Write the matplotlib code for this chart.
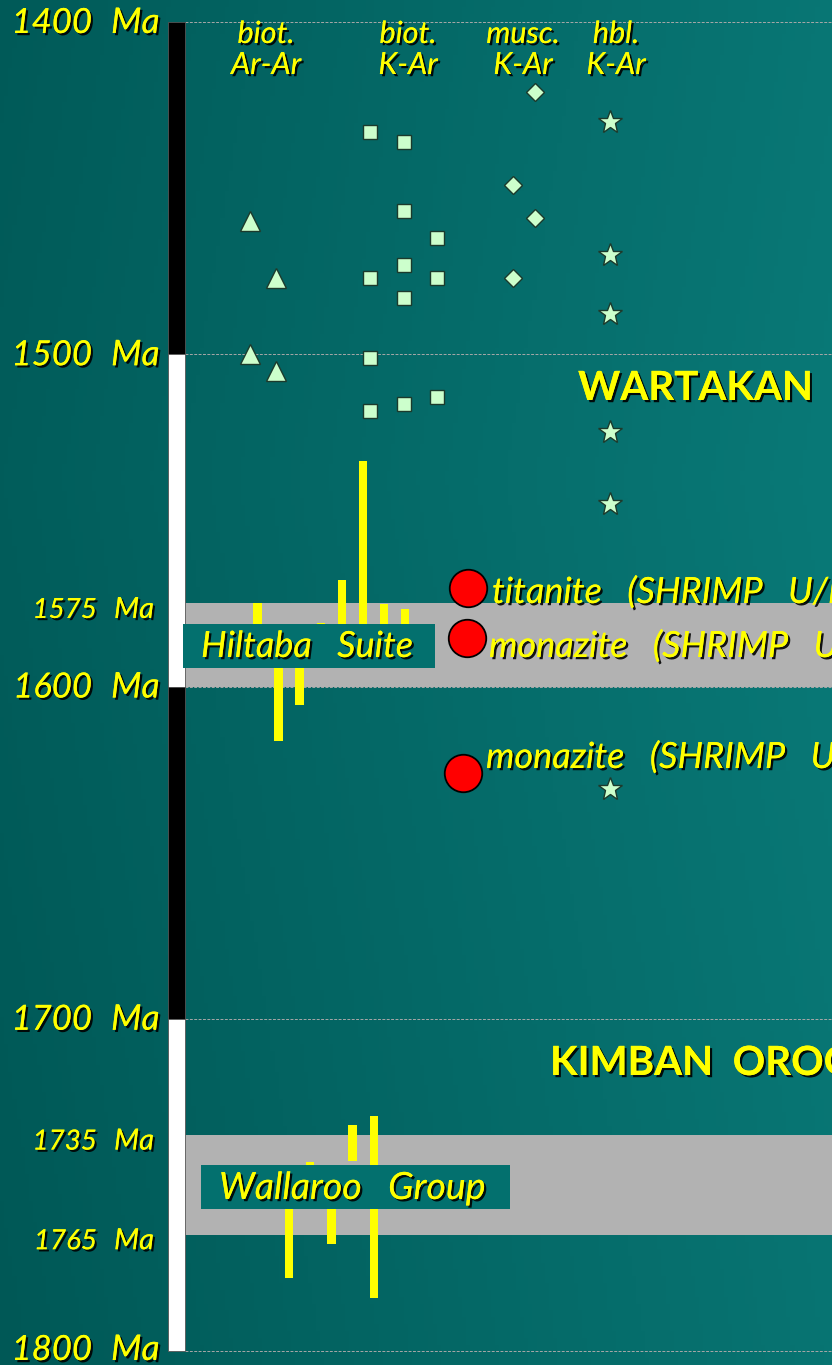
import numpy as np
import matplotlib
matplotlib.use('Agg')
import matplotlib.pyplot as plt
import matplotlib.patheffects as pe
from matplotlib.patches import Rectangle

# ages in Ma
biot_arar = [1460, 1477, 1500, 1505]
biot_arar_slot = [0, 1, 0, 1]
biot_kar = [1433, 1436, 1457, 1465, 1473, 1477, 1477, 1483, 1501, 1513, 1515, 1517]
biot_kar_slot = [0, 1, 1, 2, 1, 0, 2, 1, 0, 2, 1, 0]
musc_kar = [1421, 1449, 1459, 1477]
musc_kar_slot = [1, 0, 1, 0]
hbl_kar = [1430, 1470, 1488, 1523.5, 1545, 1631]

shrimp_ages = [1570.5, 1585.5, 1626]
shrimp_labels = ['titanite   (SHRIMP   U/Pb)', 'monazite   (SHRIMP   U/Pb)', 'monazite   (SHRIMP   U/Pb)']

# yellow age bars (top, bottom) in Ma
hiltaba_top = [1575, 1588, 1588, 1581, 1568, 1532, 1575.3, 1576.6]
hiltaba_bot = [1588, 1616.3, 1605.5, 1588, 1588, 1588, 1588, 1588]
wallaroo_top = [1750, 1743.2, 1750, 1732.1, 1729.2]
wallaroo_bot = [1777.9, 1750, 1767.9, 1742.8, 1783.9]

major_ticks = [1400, 1500, 1600, 1700, 1800]
minor_ticks = [1575, 1735, 1765]
bands = [(1575, 1600), (1735, 1765)]
column_names = ['biot.\nAr-Ar', 'biot.\nK-Ar', 'musc.\nK-Ar', 'hbl.\nK-Ar']

YEL = '#ffff00'
MINT = '#ccffcc'
TEAL_BOX = '#03706e'
FONT = 'Lato'

PX = 3.3225  # pixels per Ma

def ma(ypx):
    return 1400 + (ypx - 22) / PX

shadow = [pe.withSimplePatchShadow(offset=(1.6, -1.6), shadow_rgbFace='black', alpha=0.9), pe.Normal()]

def ytext(x, y, s, size, ha='left', bold=False):
    ax.text(x, y, s, ha=ha, va='baseline', fontsize=size,
            style='normal' if bold else 'italic', fontweight='bold' if bold else 'normal',
            color=YEL, family=FONT, path_effects=shadow, zorder=5)

fig = plt.figure(figsize=(8.32, 13.65), dpi=100)
ax = fig.add_axes([0, 0, 1, 1])
ax.set_xlim(0, 832)
ytop = ma(0)
ybot = ma(1365)
ax.set_ylim(ybot, ytop)
ax.axis('off')

# background gradient
gx = np.linspace(0, 1, 200)
gy = np.linspace(0, 1, 200)
X, Y = np.meshgrid(gx, gy)
left = np.array([0, 88, 86]) / 255
right = np.array([9, 121, 119]) / 255
t = np.clip(X * 0.85 + 0.15 * (1 - np.abs(Y - 0.35) * 1.5), 0, 1)
img = left[None, None, :] * (1 - t[..., None]) + right[None, None, :] * t[..., None]
ax.imshow(img, extent=(0, 832, ybot, ytop), aspect='auto', zorder=0)

# scale bar
for i in range(4):
    lo = major_ticks[i]
    hi = major_ticks[i + 1]
    col = 'black' if i % 2 == 0 else 'white'
    ax.add_patch(Rectangle((168, lo), 17, hi - lo, facecolor=col, edgecolor='#555555', lw=0.6, zorder=3))

# gray bands
for lo, hi in bands:
    ax.add_patch(Rectangle((184, lo), 832 - 184, hi - lo, facecolor='#b2b2b2', edgecolor='none', zorder=1))

# dashed grid lines
for v in major_ticks:
    ax.plot([185, 832], [v, v], color='#a8a8a8', lw=0.7, ls=(0, (3, 1.5)), zorder=1.5)

# tick labels: number and unit set apart like the slide
for v in major_ticks:
    base = min(v + 11 / PX, ma(1360))
    ytext(92, base, '%d' % v, 25, ha='right')
    ytext(111, base, 'Ma', 25.5)
for v in minor_ticks:
    base = v + 14.5 / PX
    ytext(97, base, '%d' % v, 20, ha='right')
    ytext(114, base, 'Ma', 21)

# column headers
col_x = [266, 408, 523, 616]
for cx, name in zip(col_x, column_names):
    l1, l2 = name.split('\n')
    ytext(cx, ma(43), l1, 22, ha='center')
    ytext(cx, ma(74), l2, 22, ha='center')

# markers
mk = dict(markerfacecolor=MINT, markeredgecolor='#1c3a2c', markeredgewidth=1.0, ls='none', zorder=4)
ax.plot([250 + 26 * s for s in biot_arar_slot], biot_arar, marker='^', markersize=14, **mk)
ax.plot([370 + 33.5 * s for s in biot_kar_slot], biot_kar, marker='s', markersize=9.5, **mk)
ax.plot([513 + 22 * s for s in musc_kar_slot], musc_kar, marker='D', markersize=9.5, **mk)
ax.plot([610] * len(hbl_kar), hbl_kar, marker='*', markersize=18, **mk)

# yellow bars
hx = [257.5 + 21.07 * i for i in range(len(hiltaba_top))]
ax.bar(hx, np.array(hiltaba_bot) - np.array(hiltaba_top), bottom=hiltaba_top, width=8.3,
       color=YEL, zorder=2)
wx = [289 + 21.2 * i for i in range(len(wallaroo_top))]
ax.bar(wx, np.array(wallaroo_bot) - np.array(wallaroo_top), bottom=wallaroo_top, width=8.3,
       color=YEL, zorder=2)

# unit boxes
def unit_box(x0, x1, y0px, y1px, tx, base_px, label, size):
    a = ma(y0px)
    b = ma(y1px)
    ax.add_patch(Rectangle((x0, a), x1 - x0, b - a, facecolor=TEAL_BOX, edgecolor='none', zorder=3))
    ytext(tx, ma(base_px), label, size)

unit_box(183, 435, 624, 668, 201, 657, 'Hiltaba   Suite', 26)
unit_box(201, 510, 1165, 1209, 219, 1199, 'Wallaroo   Group', 27)

# SHRIMP ages
sx = [468, 467, 463]
ax.plot(sx, shrimp_ages, marker='o', ls='none', markersize=27, markerfacecolor='#ff0000',
        markeredgecolor='black', markeredgewidth=1.3, zorder=4)
lx = [492, 489, 486]
lb = [603, 657, 768]
for x, b, s in zip(lx, lb, shrimp_labels):
    ytext(x, ma(b), s, 26)

# orogeny names
ytext(578, ma(400), 'WARTAKAN', 29, bold=True)
ytext(550, ma(1075), 'KIMBAN  OROGENY', 29, bold=True)

fig.savefig('out.png', dpi=100)
